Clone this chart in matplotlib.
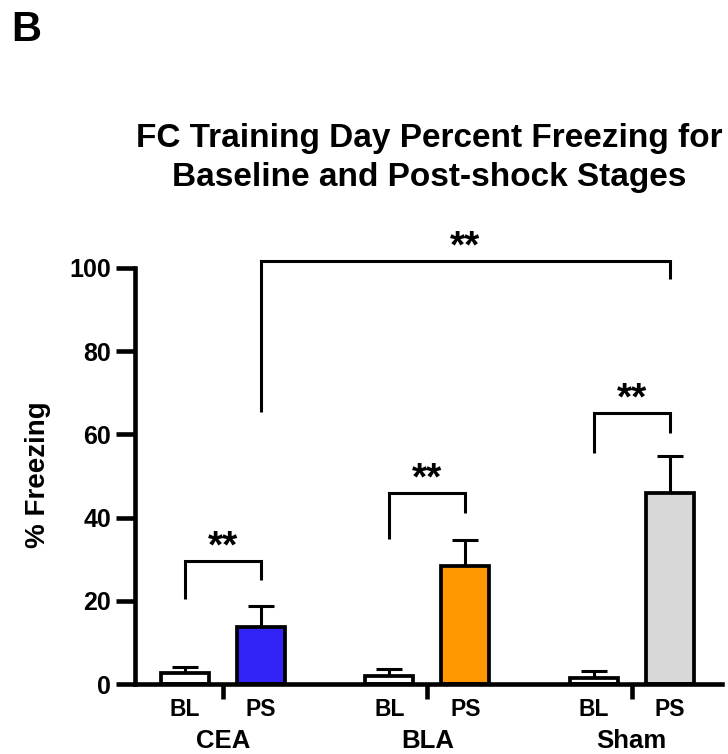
import matplotlib
matplotlib.use("Agg")
import matplotlib.pyplot as plt
import numpy as np

plt.rcParams['font.family'] = ['Liberation Sans', 'DejaVu Sans']
plt.rcParams['font.weight'] = 'bold'

# Data: mean % freezing and SEM per region, baseline (BL) vs post-shock (PS)
groups = ["CEA", "BLA", "Sham"]
stages = ["BL", "PS"]
bl_mean = [2.7, 2.0, 1.5]
bl_sem = [1.4, 1.6, 1.6]
ps_mean = [13.6, 28.4, 46.0]
ps_sem = [5.1, 6.2, 8.8]
ps_colors = ["#3323F7", "#FF9800", "#D8D8D8"]
bl_color = "#FFFFFF"
y_ticks = [0, 20, 40, 60, 80, 100]

# Significance brackets: (left bar index, right bar index, line y, left leg end, right leg end, label)
brackets = [
    (0, 1, 29.6, 20.4, 25.0, "**"),
    (2, 3, 45.9, 34.9, 41.1, "**"),
    (4, 5, 65.1, 55.5, 60.3, "**"),
    (1, 5, 101.7, 65.4, 97.4, "**"),
]

fig = plt.figure(figsize=(7.28, 7.54), dpi=100)
ax = fig.add_axes([0.1854, 0.0928, 0.8064, 0.5518])

group_step = 2.69
width = 0.63
centers = np.arange(len(groups)) * group_step
bl_x = centers
ps_x = centers + 1.0
bar_x = np.ravel(np.column_stack([bl_x, ps_x]))

lw_axis = 3.3
lw_bar = 2.7
lw_line = 2.2

# error bars (upper only), drawn behind bars
ax.errorbar(bl_x, bl_mean, yerr=[np.zeros(3), bl_sem], fmt='none', ecolor='black',
            elinewidth=lw_line, capsize=9.5, capthick=lw_line, zorder=1)
ax.errorbar(ps_x, ps_mean, yerr=[np.zeros(3), ps_sem], fmt='none', ecolor='black',
            elinewidth=lw_line, capsize=9.5, capthick=lw_line, zorder=1)

ax.bar(bl_x, bl_mean, width=width, color=bl_color, edgecolor='black', linewidth=lw_bar, zorder=2)
ax.bar(ps_x, ps_mean, width=width, color=ps_colors, edgecolor='black', linewidth=lw_bar, zorder=2)

for i0, i1, yl, y0, y1, lab in brackets:
    xa, xb = bar_x[i0], bar_x[i1]
    ax.plot([xa, xa, xb, xb], [y0, yl, yl, y1], color='black', lw=lw_line,
            solid_joinstyle='miter', solid_capstyle='butt', clip_on=False, zorder=3)
    ax.text((xa + xb) / 2, yl + 0.9, lab, ha='center', va='baseline',
            fontsize=28, fontweight='bold', clip_on=False)

ax.set_ylim(0, 100)
ax.set_xlim(-0.66, 7.07)
ax.set_yticks(y_ticks)
ax.set_yticklabels([str(t) for t in y_ticks], fontsize=18, fontweight='bold')

# dividers between BL and PS under the axis
ax.set_xticks(centers + 0.5)
ax.set_xticklabels([])
ax.tick_params(axis='x', direction='out', length=11, width=lw_axis, pad=2)
ax.tick_params(axis='y', direction='out', length=14, width=lw_axis, pad=3)

for s in ['top', 'right']:
    ax.spines[s].set_visible(False)
for s in ['left', 'bottom']:
    ax.spines[s].set_linewidth(lw_axis)
    ax.spines[s].set_capstyle('projecting')

fig.text(0.052, 0.371, "% Freezing", rotation=90, ha='center', va='center',
         fontsize=20, fontweight='bold')

trans = ax.get_xaxis_transform()
for x, lab in zip(bar_x, stages * len(groups)):
    ax.text(x, -0.062, lab, transform=trans, ha='center', va='center',
            fontsize=16.5, fontweight='bold')
for x, lab in zip(centers + 0.5, groups):
    ax.text(x, -0.137, lab, transform=trans, ha='center', va='center',
            fontsize=18.5, fontweight='bold')

fig.text(0.59, 0.791, "FC Training Day Percent Freezing for\nBaseline and Post-shock Stages",
         ha='center', va='center', fontsize=24, fontweight='bold', linespacing=1.33)
fig.text(0.015, 0.96, "B", ha='left', va='center', fontsize=30, fontweight='bold')

fig.savefig("out.png", dpi=100)
